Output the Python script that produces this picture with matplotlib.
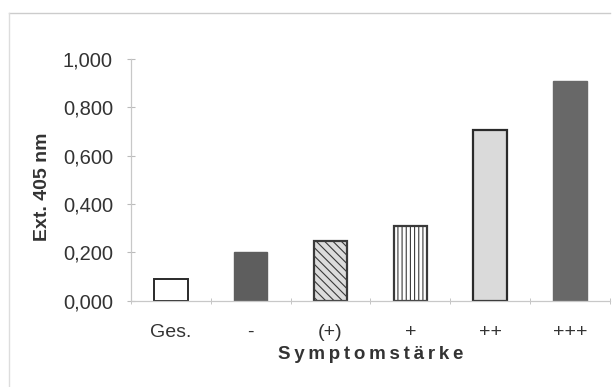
import matplotlib.pyplot as plt
from matplotlib.lines import Line2D

categories = ['Ges.', '-', '(+)', '+', '++', '+++']
values = [0.09, 0.20, 0.245, 0.31, 0.705, 0.91]
y_ticks = [0.0, 0.2, 0.4, 0.6, 0.8, 1.0]
y_tick_labels = ['0,000', '0,200', '0,400', '0,600', '0,800', '1,000']

plt.rcParams['font.family'] = ['Liberation Sans', 'DejaVu Sans']
plt.rcParams['hatch.linewidth'] = 0.8

fig = plt.figure(figsize=(6.13, 3.87), dpi=100)
ax = fig.add_axes([0.2137, 0.2235, 0.7813, 0.624])

x = list(range(len(categories)))
styles = [
    dict(color='white', edgecolor='#2a2a2a', linewidth=1.4),
    dict(color='#5e5e5e', edgecolor='#5e5e5e', linewidth=1.0),
    dict(color='#dcdcdc', edgecolor='#3a3a3a', linewidth=1.6, hatch='\\\\\\\\'),
    dict(color='white', edgecolor='#3a3a3a', linewidth=1.6, hatch='||||'),
    dict(color='#dadada', edgecolor='#2a2a2a', linewidth=1.6),
    dict(color='#686868', edgecolor='#686868', linewidth=1.0),
]
for xi, v, st in zip(x, values, styles):
    ax.bar(xi, v, width=0.42, **st)

ax.set_xlim(-0.49, 5.49)
ax.set_ylim(0, 1.0)
ax.set_yticks(y_ticks)
ax.set_yticklabels(y_tick_labels, fontsize=14.5, color='#333333')
ax.set_xticks(x)
ax.set_xticklabels(categories, fontsize=14, color='#333333')
ax.tick_params(axis='x', length=0, pad=17)
ax.set_xticks([i + 0.5 for i in range(-1, 6)], minor=True)
ax.tick_params(axis='x', which='minor', length=4, direction='inout', color='#bbbbbb')
ax.tick_params(axis='y', length=6, direction='inout', color='#bbbbbb', pad=10)

for s in ['top', 'right']:
    ax.spines[s].set_visible(False)
for s in ['left', 'bottom']:
    ax.spines[s].set_color('#c8c8c8')
    ax.spines[s].set_linewidth(0.9)

ax.set_ylabel('Ext. 405 nm', fontsize=14, fontweight='bold', color='#333333')
ax.yaxis.set_label_coords(-0.166, 0.47)
fig.text(0.604, 0.085, '\u2009'.join('Symptomstärke'), fontsize=13.5,
         fontweight='bold', color='#333333', ha='center', va='center')

# faint outer frame of the scanned figure
fig.add_artist(Line2D([0.015, 0.995], [0.966, 0.966], color='#cccccc', lw=1.0))
fig.add_artist(Line2D([0.015, 0.015], [0.0, 0.966], color='#dddddd', lw=1.0))

fig.savefig('out.png', dpi=100)
